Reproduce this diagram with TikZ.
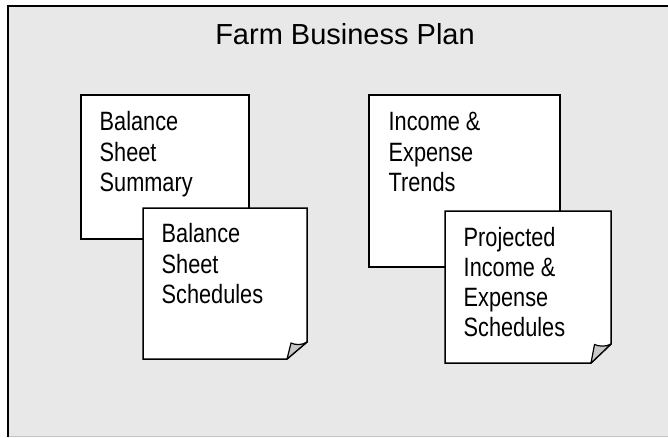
\documentclass[tikz,border=0pt]{standalone}
\usepackage{fontspec}
\setmainfont{Liberation Sans}
\newfontfamily\narrowfont[FakeStretch=0.82]{Liberation Sans}
\definecolor{bggray}{HTML}{E8E8E8}
\definecolor{flapgray}{HTML}{C8C8C8}
\definecolor{edgegray}{HTML}{C4C4C4}
\begin{document}
\begin{tikzpicture}[x=1pt,y=-1pt,
  sheet/.style={draw=black, line width=1.5pt, fill=white, line join=miter},
  flap/.style={draw=black, line width=1.2pt, fill=flapgray, line join=round},
  boxtext/.style={anchor=base west, inner sep=0pt, font=\narrowfont\fontsize{26.5}{30.3}\selectfont},
  titletext/.style={anchor=base, inner sep=0pt, font=\fontsize{29}{35}\selectfont}]
\useasboundingbox (0,0) rectangle (668,437);
% background frame
\fill[bggray] (8,6) rectangle (668,437);
\draw[edgegray, line width=1pt] (8,436) -- (668,436);
\draw[black, line width=2pt] (8,437) -- (8,6) -- (668,6);
% title
\node[titletext] (title) at (345,44) {Farm Business Plan};
% sheet 1
\draw[sheet] (81,95) rectangle (249,239);
\node[boxtext] (t1) at (99.5,130.7) {\parbox[t]{140pt}{Balance\\Sheet\\Summary}};
% sheet 2 with folded corner
\coordinate (a2) at (287,359);
\coordinate (b2) at (307,342);
\coordinate (c2) at (291,343);
\draw[sheet] (143,208) -- (307,208) -- (b2) -- (a2) -- (143,359) -- cycle;
\draw[flap] (a2) -- (c2) .. controls (295,345) and (302,345.5) .. (b2) -- cycle;
\node[boxtext] (t2) at (161.5,242.7) {\parbox[t]{140pt}{Balance\\Sheet\\Schedules}};
% sheet 3
\draw[sheet] (369,95) rectangle (560,267);
\node[boxtext] (t3) at (388.5,130.7) {\parbox[t]{160pt}{Income \&\\Expense\\Trends}};
% sheet 4 with folded corner
\coordinate (a4) at (591,363);
\coordinate (b4) at (611,344);
\coordinate (c4) at (594.5,344.5);
\draw[sheet] (445,211) -- (611,211) -- (b4) -- (a4) -- (445,363) -- cycle;
\draw[flap] (a4) -- (c4) .. controls (598.5,346.5) and (606,347) .. (b4) -- cycle;
\node[boxtext] (t4) at (463.5,246) {\parbox[t]{140pt}{Projected\\Income \&\\Expense\\Schedules}};
\end{tikzpicture}
\end{document}
